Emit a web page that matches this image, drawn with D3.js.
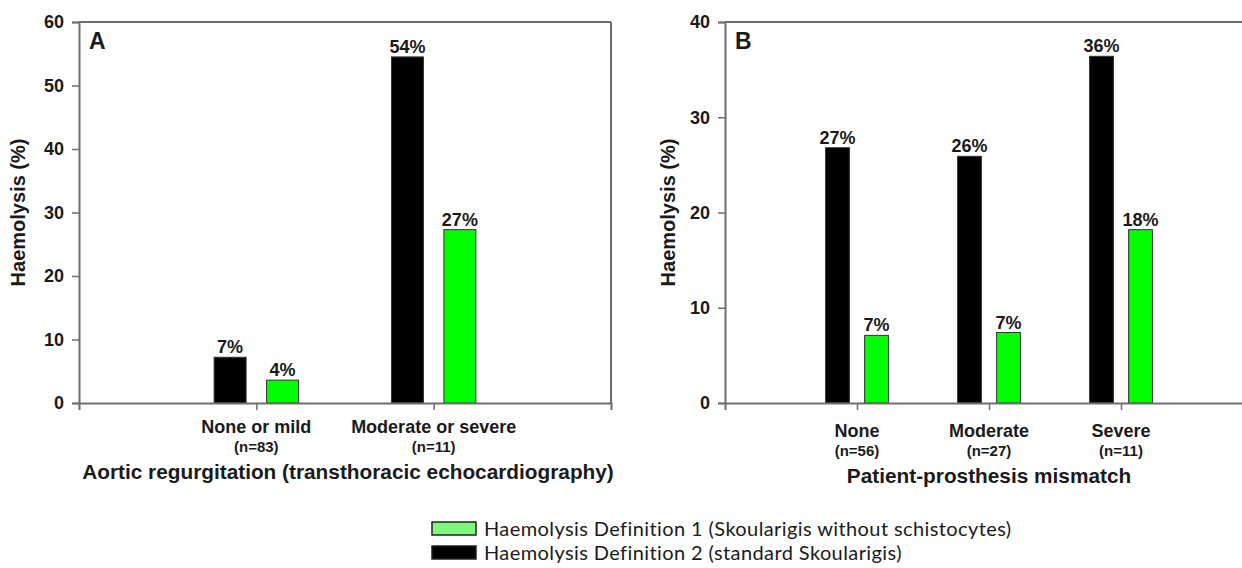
<!DOCTYPE html>
<html>
<head>
<meta charset="utf-8">
<script src="https://cdn.jsdelivr.net/npm/d3@7"></script>
<style>
  html, body { margin: 0; padding: 0; background: #fff; }
  svg { display: block; }
  .bold { font-family: "Liberation Sans", Arial, sans-serif; font-weight: bold; fill: #1a1a1a; }
  .legend { font-family: Lato, "Open Sans", sans-serif; fill: #1a1a1a; }
</style>
</head>
<body>
<script>
// ---------- data ----------
const legendOrder = ["Haemolysis Definition 1 (Skoularigis without schistocytes)", "Haemolysis Definition 2 (standard Skoularigis)"];

const aCategories = ["None or mild", "Moderate or severe"];
const aCounts = ["(n=83)", "(n=11)"];
const aDef2 = [7.2, 54.5];
const aDef1 = [3.6, 27.3];
const aDef2Labels = ["7%", "54%"];
const aDef1Labels = ["4%", "27%"];
const aTicks = [0, 10, 20, 30, 40, 50, 60];
const aTitle = "Aortic regurgitation (transthoracic echocardiography)";

const bCategories = ["None", "Moderate", "Severe"];
const bCounts = ["(n=56)", "(n=27)", "(n=11)"];
const bDef2 = [26.8, 25.9, 36.4];
const bDef1 = [7.1, 7.4, 18.2];
const bDef2Labels = ["27%", "26%", "36%"];
const bDef1Labels = ["7%", "7%", "18%"];
const bTicks = [0, 10, 20, 30, 40];
const bTitle = "Patient-prosthesis mismatch";

const yTitle = "Haemolysis (%)";

// ---------- drawing ----------
const W = 1242, H = 568;
const svg = d3.select("body").append("svg").attr("width", W).attr("height", H);

const colors = { def2: "#000000", def1: "#00ff00" };
const legendColors = { def1: "#80f880", def2: "#000000" };

function panel(opt) {
  const { left, right, top, bottom, cats, counts, def2, def1, l2, l1, ticks, title, letter, yTitleX, rightBorder, catY } = opt;
  const g = svg.append("g");
  const y = d3.scaleLinear().domain([0, d3.max(ticks)]).range([bottom, top]);
  const x = d3.scalePoint().domain(cats).range([left, right]).padding(1);
  const step = x.step();
  const inner = d3.scaleBand().domain(["def2", "def1"]).range([-0.238 * step, 0.238 * step]).paddingInner(0.39);

  // frame
  g.append("line").attr("x1", left).attr("x2", right).attr("y1", top).attr("y2", top)
    .attr("stroke", "#6e6e6e").attr("stroke-width", 2);
  if (rightBorder) {
    g.append("line").attr("x1", right).attr("x2", right).attr("y1", top).attr("y2", bottom)
      .attr("stroke", "#6e6e6e").attr("stroke-width", 2);
  }

  // bars
  const rows = cats.map((c, i) => ({ c, def2: def2[i], def1: def1[i], l2: l2[i], l1: l1[i] }));
  ["def2", "def1"].forEach(s => {
    g.selectAll(null).data(rows).enter().append("rect")
      .attr("x", d => x(d.c) + inner(s))
      .attr("width", inner.bandwidth())
      .attr("y", d => y(d[s]))
      .attr("height", d => y(0) - y(d[s]))
      .attr("fill", colors[s])
      .attr("stroke", "#333")
      .attr("stroke-width", 1);
    g.selectAll(null).data(rows).enter().append("text")
      .attr("class", "bold")
      .attr("x", d => x(d.c) + inner(s) + inner.bandwidth() / 2)
      .attr("y", d => y(d[s]) - 4)
      .attr("text-anchor", "middle")
      .attr("font-size", 18)
      .text(d => s === "def2" ? d.l2 : d.l1);
  });

  // left axis
  const ya = g.append("g").attr("transform", `translate(${left},0)`)
    .call(d3.axisLeft(y).tickValues(ticks).tickSize(7).tickPadding(8).tickFormat(d3.format("d")));
  ya.select(".domain").attr("stroke", "#6e6e6e").attr("stroke-width", 2);
  ya.selectAll(".tick line").attr("stroke", "#6e6e6e").attr("stroke-width", 1.5);
  ya.selectAll(".tick text").attr("class", "bold").attr("font-size", 18).attr("fill", "#1a1a1a");

  // bottom axis
  const xa = g.append("g").attr("transform", `translate(0,${bottom})`)
    .call(d3.axisBottom(x).tickSize(7).tickFormat(""));
  xa.select(".domain").attr("stroke", "#6e6e6e").attr("stroke-width", 2);
  xa.selectAll(".tick line").attr("stroke", "#6e6e6e").attr("stroke-width", 1.5);

  // category labels
  g.selectAll(null).data(cats).enter().append("text")
    .attr("class", "bold").attr("x", d => x(d)).attr("y", catY)
    .attr("text-anchor", "middle").attr("font-size", 18).text(d => d);
  g.selectAll(null).data(counts).enter().append("text")
    .attr("class", "bold").attr("x", (d, i) => x(cats[i])).attr("y", catY + 19)
    .attr("text-anchor", "middle").attr("font-size", 15).text(d => d);
  g.append("text").attr("class", "bold")
    .attr("x", opt.titleX).attr("y", catY + 46)
    .attr("text-anchor", "middle").attr("font-size", 20.8).text(title);

  // y title
  g.append("text").attr("class", "bold")
    .attr("transform", `translate(${yTitleX},${(top + bottom) / 2}) rotate(-90)`)
    .attr("text-anchor", "middle").attr("font-size", 20).text(yTitle);

  // panel letter
  g.append("text").attr("class", "bold").attr("x", left + 10).attr("y", top + 27)
    .attr("font-size", 23).text(letter);
}

panel({ left: 79, right: 611, top: 22, bottom: 403, cats: aCategories, counts: aCounts,
  def2: aDef2, def1: aDef1, l2: aDef2Labels, l1: aDef1Labels, ticks: aTicks, title: aTitle,
  letter: "A", yTitleX: 25, rightBorder: true, catY: 433, titleX: 348 });

panel({ left: 725, right: 1253, top: 22, bottom: 403, cats: bCategories, counts: bCounts,
  def2: bDef2, def1: bDef1, l2: bDef2Labels, l1: bDef1Labels, ticks: bTicks, title: bTitle,
  letter: "B", yTitleX: 675, rightBorder: true, catY: 437, titleX: 989 });

// legend
const legend = svg.append("g").attr("transform", "translate(432,522)");
const legendKeys = ["def1", "def2"];
legend.selectAll(null).data(legendOrder).enter().append("rect")
  .attr("x", 0).attr("y", (d, i) => i * 24).attr("width", 44).attr("height", 13)
  .attr("fill", (d, i) => legendColors[legendKeys[i]]).attr("stroke", "#222").attr("stroke-width", 1.5);
legend.selectAll(null).data(legendOrder).enter().append("text")
  .attr("class", "legend").attr("x", 52).attr("y", (d, i) => i * 24 + 14)
  .attr("font-size", 20).attr("letter-spacing", 0.4).text(d => d);
</script>
</body>
</html>
